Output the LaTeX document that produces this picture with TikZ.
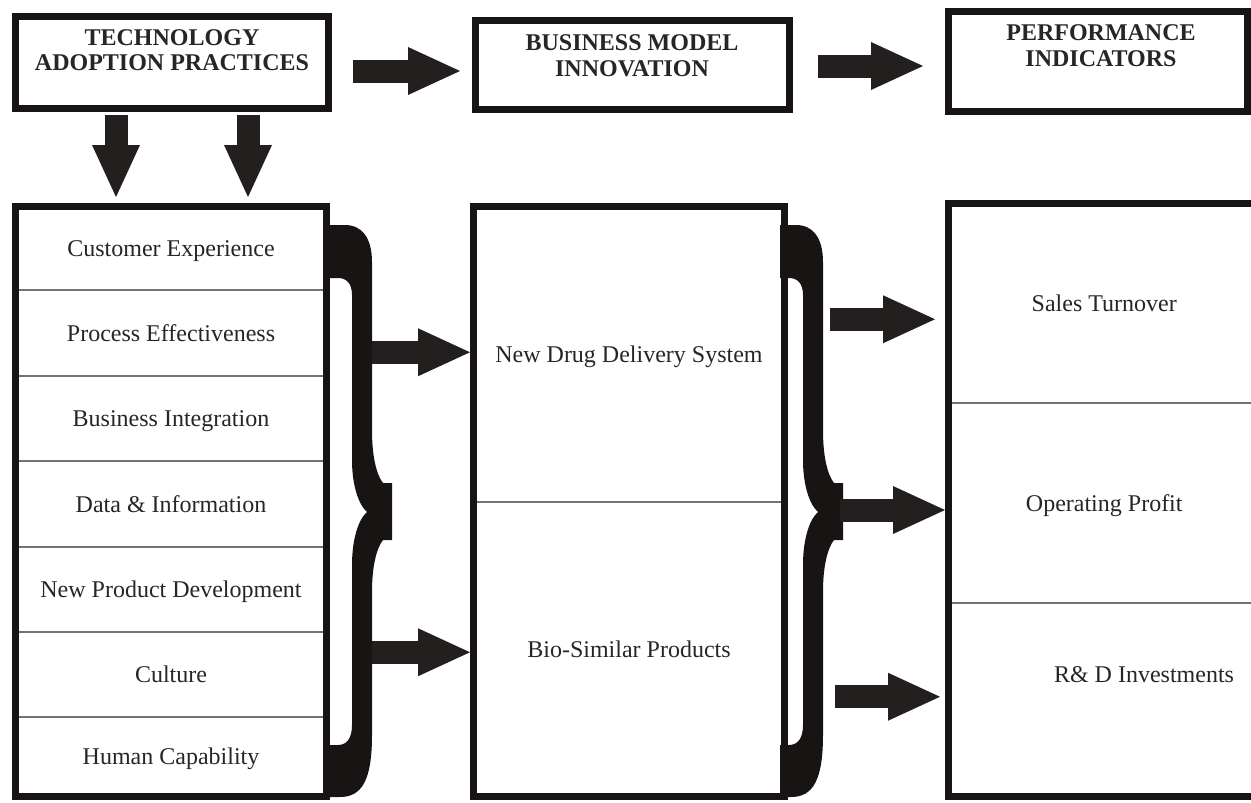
\documentclass[tikz,border=0pt]{standalone}
\usepackage{fontspec}
\setmainfont{Liberation Serif}
\usetikzlibrary{arrows.meta,calc,fit}
\definecolor{ink}{RGB}{24,20,20}
\definecolor{arrowc}{RGB}{36,31,31}
\definecolor{txt}{RGB}{38,38,38}
\definecolor{rulec}{RGB}{115,115,115}
\begin{document}
\begin{tikzpicture}[x=1pt,y=-1pt,
  frame/.style={draw=ink, line width=7pt, inner sep=0pt, outer sep=3.5pt, rectangle},
  title/.style={font=\fontsize{24}{25.5}\selectfont\bfseries, text=txt, align=center, inner sep=0pt},
  cell/.style={inner sep=0pt, outer sep=0pt, font=\fontsize{24}{28}\selectfont, text=txt, text height=16pt, text depth=0pt},
  plain/.style={inner sep=0pt, font=\fontsize{24}{28}\selectfont, text=txt, text height=16pt, text depth=0pt},
  divider/.style={draw=rulec, line width=1.2pt},
  blockarr/.style={draw=arrowc, line width=23pt, -{Triangle[length=52pt,width=48pt,line width=0pt]}},
  bracefill/.style={fill=ink}
]
\fill[white] (0,0) rectangle (1251,803);
\useasboundingbox (0,0) rectangle (1251,803);

% top boxes
\node[frame, minimum width=313pt, minimum height=92pt] (tap) at (172,62.5) {};
\node[frame, minimum width=314pt, minimum height=89pt] (bmi) at (632.5,65) {};
\node[frame, minimum width=299pt, minimum height=100pt] (pi) at (1098,61.5) {};
\node[title] (tapt) at (172,50) {TECHNOLOGY\\ADOPTION PRACTICES};
\node[title] (bmit) at (632,55.5) {BUSINESS MODEL\\INNOVATION};
\node[title] (pit) at (1101,45.5) {PERFORMANCE\\INDICATORS};

% left list
\node[cell, minimum width=311pt, minimum height=83.5pt] (r1) at (171,248.25) {Customer Experience};
\node[cell, minimum width=311pt, minimum height=86pt]   (r2) at (171,333) {Process Effectiveness};
\node[cell, minimum width=311pt, minimum height=85pt]   (r3) at (171,418.5) {Business Integration};
\node[cell, minimum width=311pt, minimum height=86pt]   (r4) at (171,504) {Data \& Information};
\node[cell, minimum width=311pt, minimum height=85pt]   (r5) at (171,589.5) {New Product Development};
\node[cell, minimum width=311pt, minimum height=85pt]   (r6) at (171,674.5) {Culture};
\node[cell, minimum width=311pt, minimum height=79.5pt] (r7) at (171,756.75) {Human Capability};
\foreach \r in {r1,r2,r3,r4,r5,r6}{\draw[divider] (\r.south west) -- (\r.south east);}
\node[frame, fit=(r1)(r7)] (list) {};

% middle box
\node[cell, minimum width=311pt, minimum height=295.5pt] (m1) at (629,354.25) {New Drug Delivery System};
\node[cell, minimum width=311pt, minimum height=294.5pt] (m2) at (629,649.25) {Bio-Similar Products};
\draw[divider] (m1.south west) -- (m1.south east);
\node[frame, fit=(m1)(m2)] (mid) {};

% right box
\node[cell, minimum width=311.5pt, minimum height=199.5pt] (p1) at (1104.25,303.25) {Sales Turnover};
\node[cell, minimum width=311.5pt, minimum height=200pt]   (p2) at (1104.25,503) {Operating Profit};
\node[cell, minimum width=311.5pt, minimum height=193.5pt] (p3) at (1104.25,699.75) {};
\node[plain] (rd) at (1144,674) {R\& D Investments};
\draw[divider] (p1.south west) -- (p1.south east);
\draw[divider] (p2.south west) -- (p2.south east);
\node[frame, fit=(p1)(p3)] (perf) {};

% braces
\foreach \sx in {0,451}{
\begin{scope}[shift={(\sx,0)}]
\fill[bracefill] (329,225) -- (345,225) .. controls (362,225) and (372,238) .. (372,262)
 -- (372,430) .. controls (372,455) and (376,474) .. (383,483)
 -- (392,483) -- (392,540) -- (383,540)
 .. controls (376,549) and (372,568) .. (372,592)
 -- (372,735) .. controls (372,780) and (362,797) .. (340,797)
 -- (329,797) -- (329,745) -- (338,745)
 .. controls (347,745) and (352,738) .. (352,725)
 -- (352,565) .. controls (352,540) and (358,520) .. (367,512)
 .. controls (358,504) and (352,484) .. (352,460)
 -- (352,295) .. controls (352,284) and (347,278) .. (338,278)
 -- (329,278) -- cycle;
\end{scope}}

% arrows
\draw[blockarr] ($(tap.east)+(21,8.5)$) -- ($(bmi.west)+(-12,6)$);
\draw[blockarr] ($(bmi.east)+(25,1)$) -- ($(pi.west)+(-22,4.5)$);
\draw[blockarr] ($(tap.south west)+(104,3)$) -- ($(list.north west)+(104,-6)$);
\draw[blockarr] ($(tap.south west)+(236,3)$) -- ($(list.north west)+(236,-6)$);
\draw[blockarr] ($(list.east |- m1)+(42,-2)$) -- ($(mid.west |- m1)+(0,-2)$);
\draw[blockarr] ($(list.east |- m2)+(42,3)$) -- ($(mid.west |- m2)+(0,3)$);
\draw[blockarr] ($(mid.east |- p1)+(42,16)$) -- ($(perf.west |- p1)+(-10,16)$);
\draw[blockarr] ($(mid.east |- p2)+(52,7)$) -- ($(perf.west |- p2)+(0,7)$);
\draw[blockarr] ($(mid.east |- p3)+(47,-3)$) -- ($(perf.west |- p3)+(-5,-3)$);
\end{tikzpicture}
\end{document}
